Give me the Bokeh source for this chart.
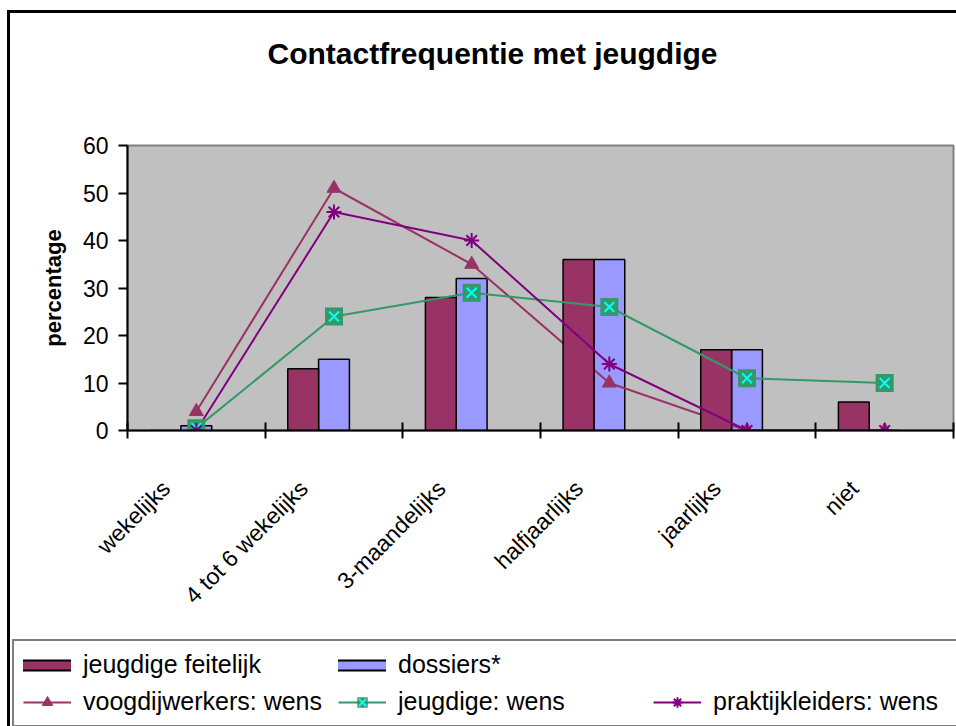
import numpy as np
from bokeh.plotting import figure
from bokeh.layouts import column
from bokeh.models import Range1d, FixedTicker, LinearAxis, Legend, LegendItem, Title
from bokeh.embed import file_html
from bokeh.resources import INLINE

# ---- data -------------------------------------------------------------
categories = ["wekelijks", "4 tot 6 wekelijks", "3-maandelijks",
              "halfjaarlijks", "jaarlijks", "niet"]
jeugdige_feitelijk = [0, 13, 28, 36, 17, 6]
dossiers = [1, 15, 32, 36, 17, 0]
voogdijwerkers_wens = [4, 51, 35, 10, 0, 0]
jeugdige_wens = [0.5, 24, 29, 26, 11, 10]
praktijkleiders_wens = [0, 46, 40, 14, 0, 0]
y_ticks = [0, 10, 20, 30, 40, 50, 60]

FONT = "Liberation Sans"
MAROON = "#993366"
BLUE = "#9999FF"
GREEN = "#339966"
CYAN = "#00FFFF"
PURPLE = "#800080"

n = len(categories)
centers = np.arange(n) + 0.5
BAR_W = 0.224
x_feit = centers - BAR_W
x_doss = centers
label_pos = centers - 0.22   # rotated labels end slightly left of the centre

# ---- main chart -----------------------------------------------------
p = figure(width=946, height=624, output_backend="svg", toolbar_location=None,
           x_range=Range1d(0, n), y_range=Range1d(0, y_ticks[-1]),
           min_border_left=117, min_border_right=3,
           min_border_top=132, min_border_bottom=207,
           x_axis_type=None, title=None)
p.background_fill_color = "#C0C0C0"
p.border_fill_color = None
p.outline_line_color = "#808080"
p.outline_line_width = 2
p.ygrid.visible = False

# spacer (nearest the frame) + real title above it
p.add_layout(Title(text=" ", text_font_size="1px", standoff=73), "above")
p.add_layout(Title(text="Contactfrequentie met jeugdige", align="left", offset=140,
                   standoff=0, text_font=FONT, text_font_size="30px",
                   text_font_style="bold", text_color="black"), "above")

# y axis
ya = p.yaxis[0]
ya.ticker = FixedTicker(ticks=y_ticks)
ya.axis_label = "percentage"
ya.axis_label_text_font = FONT
ya.axis_label_text_font_size = "22px"
ya.axis_label_text_font_style = "bold"
ya.axis_label_text_color = "black"
ya.axis_label_standoff = 14
ya.major_label_text_font = FONT
ya.major_label_text_font_size = "23px"
ya.major_label_text_color = "black"
ya.major_label_standoff = 10
ya.axis_line_color = "black"
ya.axis_line_width = 2
ya.major_tick_line_color = "black"
ya.major_tick_line_width = 2
ya.major_tick_in = 0
ya.major_tick_out = 9
ya.minor_tick_line_color = None

# x axis: labels near category centres, tick marks at boundaries
xa = LinearAxis(ticker=FixedTicker(ticks=list(label_pos), minor_ticks=list(range(n + 1))),
                major_label_overrides={float(c): cat for c, cat in zip(label_pos, categories)})
xa.major_label_orientation = np.pi / 4
xa.major_label_text_font = FONT
xa.major_label_text_font_size = "23px"
xa.major_label_text_color = "black"
xa.major_label_standoff = 46
xa.axis_line_color = "black"
xa.axis_line_width = 2
xa.major_tick_line_color = None
xa.major_tick_in = 0
xa.major_tick_out = 0
xa.minor_tick_line_color = "black"
xa.minor_tick_line_width = 2
xa.minor_tick_in = 8
xa.minor_tick_out = 8
p.add_layout(xa, "below")

# ---- glyphs (draw order follows the reference) -----------------------
p.vbar(x=x_doss, top=dossiers, width=BAR_W, fill_color=BLUE,
       line_color="black", line_width=1.5)
p.line(centers, voogdijwerkers_wens, line_color=MAROON, line_width=2)
p.vbar(x=x_feit, top=jeugdige_feitelijk, width=BAR_W, fill_color=MAROON,
       line_color="black", line_width=1.5)
p.line(centers, jeugdige_wens, line_color=GREEN, line_width=2)
p.line(centers, praktijkleiders_wens, line_color=PURPLE, line_width=2)
p.scatter(centers, voogdijwerkers_wens, marker="triangle", size=14,
          fill_color=MAROON, line_color=MAROON)
p.scatter(centers, jeugdige_wens, marker="square", size=18,
          fill_color=GREEN, line_color=None)
p.scatter(centers, jeugdige_wens, marker="x", size=14,
          line_color=CYAN, line_width=2)
p.scatter(centers, praktijkleiders_wens, marker="asterisk", size=15,
          line_color=PURPLE, line_width=2)

# ---- legend strip: own figure whose frame is the whole strip ----------
# proxy renderers carry the same series, but q's y range keeps them out of view
q = figure(width=946, height=89, output_backend="svg", toolbar_location=None,
           x_range=Range1d(0, n), y_range=Range1d(1000, 1001),
           x_axis_type=None, y_axis_type=None, title=None, min_border=0)
q.outline_line_color = None
q.background_fill_color = None
q.border_fill_color = None
q.grid.visible = False
try:
    q.frame_align = False
    p.frame_align = False
except AttributeError:
    pass


def bar_proxy(xs, ys, color):
    a = q.line(xs, ys, line_color="black", line_width=12, line_cap="square")
    b = q.line(xs, ys, line_color=color, line_width=8, line_cap="square")
    return [a, b]


placeholder = q.scatter(centers, dossiers, fill_alpha=0, line_alpha=0)
lg_voog = [q.line(centers, voogdijwerkers_wens, line_color=MAROON, line_width=2),
           q.scatter(centers, voogdijwerkers_wens, marker="triangle",
                     fill_color=MAROON, line_color=MAROON)]
lg_green = [q.line(centers, jeugdige_wens, line_color=GREEN, line_width=2),
            q.scatter(centers, jeugdige_wens, marker="square",
                      fill_color=GREEN, line_color=None),
            q.scatter(centers, jeugdige_wens, marker="x", line_color=CYAN, line_width=2)]
lg_purple = [q.line(centers, praktijkleiders_wens, line_color=PURPLE, line_width=2),
             q.scatter(centers, praktijkleiders_wens, marker="asterisk",
                       line_color=PURPLE, line_width=2)]

legend = Legend(items=[
    LegendItem(label="jeugdige feitelijk", renderers=bar_proxy(x_feit, jeugdige_feitelijk, MAROON)),
    LegendItem(label="dossiers*", renderers=bar_proxy(x_doss, dossiers, BLUE)),
    LegendItem(label=" ", renderers=[placeholder]),
    LegendItem(label="voogdijwerkers: wens", renderers=lg_voog),
    LegendItem(label="jeugdige: wens", renderers=lg_green),
    LegendItem(label="praktijkleiders: wens", renderers=lg_purple),
], location="top_left", orientation="horizontal", ncols=3)
legend.label_text_font = FONT
legend.label_text_font_size = "25px"
legend.label_text_color = "black"
legend.border_line_color = "black"
legend.border_line_width = 2
legend.background_fill_color = "white"
legend.background_fill_alpha = 1
legend.margin = 2
legend.padding = 9
legend.spacing = 8
legend.glyph_width = 48
legend.glyph_height = 26
legend.label_standoff = 12
legend.label_width = 247
legend.label_height = 20
q.add_layout(legend)

layout = column(p, q, spacing=0)
layout.styles = {"border-left": "3px solid black", "border-top": "3px solid black",
                 "margin-left": "7px", "margin-top": "10px"}

open("out.html", "w").write(file_html(layout, INLINE))
